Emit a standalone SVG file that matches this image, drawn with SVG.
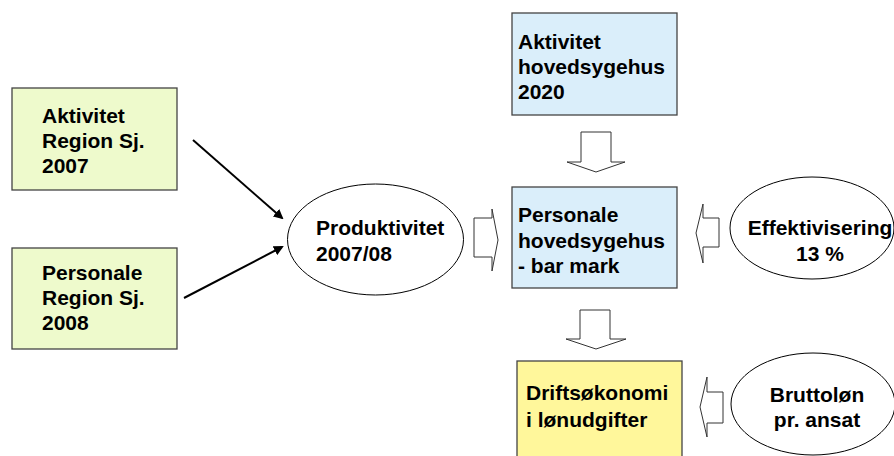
<svg xmlns="http://www.w3.org/2000/svg" width="894" height="456" viewBox="0 0 894 456">
<defs>
<style>
.t{font-family:"Liberation Sans",Arial,sans-serif;font-weight:bold;font-size:21px;fill:#000}
.box{stroke:#444;stroke-width:1.3}
.g{fill:#eefacc}
.b{fill:#daeefa}
.y{fill:#fff79b}
.el{fill:#fff;stroke:#000;stroke-width:1}
.ba{fill:#fff;stroke:#333;stroke-width:1}
.ln{stroke:#000;stroke-width:2;fill:none}
</style>
<marker id="ah" markerWidth="10" markerHeight="10" refX="8" refY="5" orient="auto" markerUnits="userSpaceOnUse" viewBox="0 0 10 10">
<path d="M0,0 L10,5 L0,10 Z" fill="#000"/>
</marker>
</defs>
<rect width="894" height="456" fill="#fff"/>
<g id="n-akt-region">
<rect class="box g" x="12" y="88" width="165" height="102"/>
<text class="t" x="42" y="123">Aktivitet</text>
<text class="t" x="42" y="148">Region Sj.</text>
<text class="t" x="42" y="173">2007</text>
</g>
<g id="n-pers-region">
<rect class="box g" x="12" y="248" width="165" height="101"/>
<text class="t" x="42" y="280">Personale</text>
<text class="t" x="42" y="305">Region Sj.</text>
<text class="t" x="42" y="330">2008</text>
</g>
<g id="n-produktivitet">
<ellipse class="el" cx="375.5" cy="239.5" rx="88" ry="55.5"/>
<text class="t" x="316" y="235">Produktivitet</text>
<text class="t" x="316" y="261">2007/08</text>
</g>
<g id="n-akt-hoved">
<rect class="box b" x="512" y="13" width="165" height="102"/>
<text class="t" x="518" y="49">Aktivitet</text>
<text class="t" x="518" y="74">hovedsygehus</text>
<text class="t" x="518" y="99">2020</text>
</g>
<g id="n-pers-hoved">
<rect class="box b" x="512" y="187" width="165" height="101"/>
<text class="t" x="518" y="222">Personale</text>
<text class="t" x="518" y="248">hovedsygehus</text>
<text class="t" x="518" y="273">- bar mark</text>
</g>
<g id="n-effektivisering">
<ellipse class="el" cx="812" cy="228" rx="82" ry="51"/>
<text class="t" x="820" y="235" text-anchor="middle">Effektivisering</text>
<text class="t" x="820" y="261" text-anchor="middle">13 %</text>
</g>
<g id="n-drift">
<rect class="box y" x="517" y="361" width="165" height="100"/>
<text class="t" x="526" y="400">Driftsøkonomi</text>
<text class="t" x="526" y="427">i lønudgifter</text>
</g>
<g id="n-brutto">
<ellipse class="el" cx="813" cy="404" rx="82" ry="51"/>
<text class="t" x="817" y="402" text-anchor="middle">Bruttoløn</text>
<text class="t" x="817" y="427" text-anchor="middle">pr. ansat</text>
</g>
<g id="connectors">
<line class="ln" x1="193" y1="140" x2="282" y2="218" marker-end="url(#ah)"/>
<line class="ln" x1="184" y1="298" x2="282" y2="247" marker-end="url(#ah)"/>
<path class="ba" d="M581,132 L611,132 L611,162 L625,162 L596,172 L567,162 L581,162 Z"/>
<path class="ba" d="M474,218 L492,218 L492,209 L498,240 L492,271 L492,257 L474,257 Z"/>
<path class="ba" d="M719,218 L703,218 L703,204 L696,233 L703,263 L703,247 L719,247 Z"/>
<path class="ba" d="M580,310 L610,310 L610,339 L626,339 L596,349 L566,339 L580,339 Z"/>
<path class="ba" d="M723,392 L707,392 L707,377 L700,407 L707,437 L707,423 L723,423 Z"/>
</g>
</svg>
